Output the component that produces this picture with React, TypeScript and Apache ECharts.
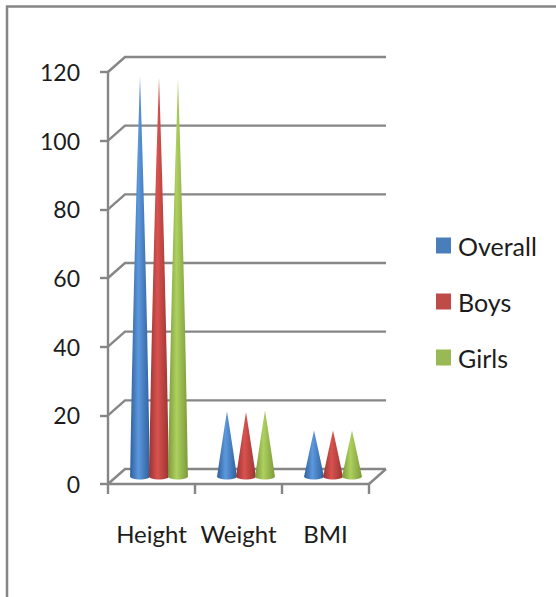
import React, { useEffect, useRef } from "react";
import * as echarts from "echarts";

const categories = ["Height", "Weight", "BMI"];
const overall = [116.5, 19, 13.4];
const boys = [116.1, 18.7, 13.4];
const girls = [115.7, 19.2, 13.4];
const yTicks = [0, 20, 40, 60, 80, 100, 120];

const FONT = "Lato, 'Open Sans', sans-serif";
const TEXT = "#1c1c1c";
const WALL = "#868686";

// Oblique projection of the 3D box: how far the back wall sits from the front plane.
const DEPTH_X = 17;
const DEPTH_Y = -15;

const palettes = [
  { name: "Overall", values: overall, base: "#4a7ebb", dark: "#2f5f9e", light: "#5c98dc", offset: -1 },
  { name: "Boys", values: boys, base: "#be4b48", dark: "#9a3431", light: "#d8524f", offset: 0 },
  { name: "Girls", values: girls, base: "#98b954", dark: "#7b9a3c", light: "#aed05e", offset: 1 },
];

// Outline of one cone; tall cones flare a little, short ones stay straight.
function coneOutline(cx: number, by: number, ty: number, rx: number, flare: number) {
  const steps = 8;
  const right: number[][] = [];
  const left: number[][] = [];
  for (let i = 1; i <= steps; i++) {
    const f = i / steps;
    const r = rx * (f + flare * 4 * f * (1 - f));
    const y = ty + (by - ty) * f;
    right.push([cx + r, y]);
    left.unshift([cx - r, y]);
  }
  return [[cx, ty], ...right, ...left];
}

function coneSeries(p: (typeof palettes)[number]) {
  const fill = () =>
    new echarts.graphic.LinearGradient(0, 0, 1, 0, [
      { offset: 0, color: p.dark },
      { offset: 0.42, color: p.light },
      { offset: 1, color: p.dark },
    ]);
  return {
    type: "custom",
    name: p.name,
    coordinateSystem: "cartesian2d",
    itemStyle: { color: p.base },
    z: 5,
    clip: false,
    data: p.values.map((v, i) => [i, v]),
    renderItem: (_: unknown, api: any) => {
      const base = api.coord([api.value(0), 0]);
      const tip = api.coord([api.value(0), api.value(1)]);
      const band = api.size([1, 0])[0];
      const cx = base[0] + 7.5 + (p.offset * band) / 4.58;
      const by = base[1] + DEPTH_Y / 2;
      const ty = tip[1] + DEPTH_Y / 2;
      const rx = 9.9;
      const flare = 0.09 * (api.value(1) / 120);
      return {
        type: "group",
        children: [
          {
            type: "ellipse",
            shape: { cx, cy: by, rx, ry: 3 },
            style: { fill: fill() },
          },
          {
            type: "polygon",
            shape: { points: coneOutline(cx, by, ty, rx, flare) },
            style: { fill: fill() },
          },
        ],
      };
    },
  };
}

// Side-wall and back-wall rules for each value tick, plus the floor's right edge.
const wallSeries = {
  type: "custom",
  coordinateSystem: "cartesian2d",
  silent: true,
  z: 1,
  clip: false,
  data: yTicks.map((t) => [0, t]),
  renderItem: (_: unknown, api: any) => {
    const band = api.size([1, 0])[0];
    const first = api.coord([0, api.value(1)]);
    const last = api.coord([2, api.value(1)]);
    const x0 = first[0] - band / 2;
    const x1 = last[0] + band / 2;
    const y = first[1];
    const line = { stroke: WALL, lineWidth: 2.4, fill: "none" };
    const children: any[] = [
      {
        type: "polyline",
        shape: {
          points: [
            [x0, y],
            [x0 + DEPTH_X, y + DEPTH_Y],
            [x1 + DEPTH_X, y + DEPTH_Y],
          ],
        },
        style: line,
      },
    ];
    if (api.value(1) === 0) {
      children.push({
        type: "polyline",
        shape: { points: [[x1, y], [x1 + DEPTH_X, y + DEPTH_Y]] },
        style: line,
      });
    }
    return { type: "group", children };
  },
};

export default function App() {
  const ref = useRef<HTMLDivElement>(null);

  useEffect(() => {
    document.body.style.margin = "0";
    const chart = echarts.init(ref.current!, null, { renderer: "svg" });
    chart.setOption({
      animation: false,
      backgroundColor: "#ffffff",
      grid: { left: 108, right: 187, top: 72, bottom: 113 },
      graphic: [
        {
          type: "polyline",
          silent: true,
          shape: { points: [[7, 597], [7, 6.5], [556, 6.5]] },
          style: { stroke: "#858585", lineWidth: 2.5, fill: "none" },
        },
      ],
      legend: {
        orient: "vertical",
        left: 436,
        top: 233,
        padding: 0,
        icon: "rect",
        itemWidth: 15,
        itemHeight: 16,
        itemGap: 31,
        selectedMode: false,
        data: palettes.map((p) => p.name),
        textStyle: { fontFamily: FONT, fontSize: 25, color: TEXT, padding: [0, 0, 0, 2] },
      },
      xAxis: {
        type: "category",
        data: categories,
        boundaryGap: true,
        axisLine: { lineStyle: { color: WALL, width: 2.4 } },
        axisTick: { show: true, alignWithLabel: false, interval: 0, length: 10, lineStyle: { color: WALL, width: 2.4 } },
        axisLabel: { fontFamily: FONT, fontSize: 24, color: TEXT, margin: 37, interval: 0 },
        splitLine: { show: false },
      },
      yAxis: {
        type: "value",
        min: 0,
        max: 120,
        interval: 20,
        axisLine: { show: true, lineStyle: { color: WALL, width: 2.4 } },
        axisTick: { show: true, length: 8, lineStyle: { color: WALL, width: 2.4 } },
        axisLabel: { fontFamily: FONT, fontSize: 23, color: TEXT, margin: 28 },
        splitLine: { show: false },
      },
      series: [wallSeries, ...palettes.map(coneSeries)],
    });
    return () => chart.dispose();
  }, []);

  return <div ref={ref} style={{ position: "absolute", left: 0, top: 0, width: 556, height: 597 }} />;
}
